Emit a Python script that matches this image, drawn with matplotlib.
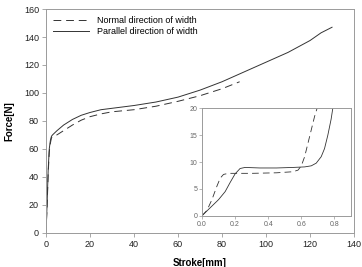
import matplotlib

matplotlib.use("Agg")

import matplotlib.pyplot as plt

plt.rcParams["font.family"] = ["Liberation Sans", "DejaVu Sans"]

# main curves: stroke [mm] vs force [N]
normal_x = [0, 0.5, 1, 1.5, 2, 2.5, 3, 4, 5, 8, 12, 16, 20, 25, 30, 40, 50, 60, 70, 80, 88]
normal_y = [0, 18, 42, 58, 64, 68, 69, 69.5, 70, 73, 77, 80.5, 83, 85, 86.5, 88, 90.5, 94, 98, 103, 108]
parallel_x = [0, 0.5, 1, 1.5, 2, 2.5, 3, 5, 8, 12, 16, 20, 25, 30, 40, 50, 60, 70, 80, 90, 100, 110, 120, 125, 130]
parallel_y = [0, 20, 45, 60, 66, 69, 70, 73, 77, 81, 84, 86, 88, 89, 91, 93.5, 97, 102, 108, 115, 122, 129, 137.5, 143, 147]

# inset: first 0.9 mm of stroke
inset_normal_x = [0, 0.03, 0.06, 0.09, 0.11, 0.13, 0.16, 0.3, 0.45, 0.55, 0.58, 0.6, 0.62, 0.64, 0.66, 0.68, 0.695]
inset_normal_y = [0, 1, 3, 5.5, 7, 7.7, 7.9, 7.9, 8.0, 8.2, 8.5, 9.3, 11, 13.5, 16, 18.5, 20]
inset_parallel_x = [0, 0.05, 0.1, 0.14, 0.17, 0.2, 0.23, 0.26, 0.35, 0.45, 0.55, 0.62, 0.66, 0.69, 0.72, 0.74, 0.76, 0.78, 0.79]
inset_parallel_y = [0, 1.5, 3, 4.5, 6.2, 7.8, 8.8, 9.0, 8.9, 8.9, 9.0, 9.1, 9.3, 9.8, 11, 12.5, 15, 18, 20]

SPINE = "#9a9a9a"
LINE = "#333333"
DASHES = (8, 5)

fig = plt.figure(figsize=(3.62, 2.67), dpi=100)
ax = fig.add_axes((0.127, 0.1285, 0.851, 0.8375))
ax.plot(normal_x, normal_y, color=LINE, lw=0.7, dashes=DASHES, label="Normal direction of width")
ax.plot(parallel_x, parallel_y, color=LINE, lw=0.7, label="Parallel direction of width")
ax.set_xlim(0, 140)
ax.set_ylim(0, 160)
ax.set_xticks(range(0, 141, 20))
ax.set_yticks(range(0, 161, 20))
ax.tick_params(labelsize=6.5, length=3, width=0.6, color=SPINE, labelcolor="#222222", pad=2)
for s in ax.spines.values():
    s.set_color(SPINE)
    s.set_linewidth(0.7)
ax.set_xlabel("Stroke[mm]", fontsize=7, fontweight="bold", labelpad=7)
ax.set_ylabel("Force[N]", fontsize=7, fontweight="bold", labelpad=7)
ax.legend(loc="upper left", frameon=False, fontsize=6.5, handlelength=4.0,
          handletextpad=0.9, labelspacing=0.2, borderaxespad=0.4,
          bbox_to_anchor=(0.0, 1.0))

ins = fig.add_axes((0.558, 0.192, 0.4116, 0.402))
ins.plot(inset_normal_x, inset_normal_y, color=LINE, lw=0.6, dashes=DASHES)
ins.plot(inset_parallel_x, inset_parallel_y, color=LINE, lw=0.6)
ins.set_xlim(0, 0.9)
ins.set_ylim(0, 20)
ins.set_xticks([0, 0.2, 0.4, 0.6, 0.8])
ins.set_xticklabels(["0.0", "0.2", "0.4", "0.6", "0.8"])
ins.set_yticks([0, 5, 10, 15, 20])
ins.tick_params(labelsize=5, length=2, width=0.5, color=SPINE, labelcolor="#666666", pad=1.5)
for s in ins.spines.values():
    s.set_color(SPINE)
    s.set_linewidth(0.7)

fig.savefig("out.png", dpi=100)
